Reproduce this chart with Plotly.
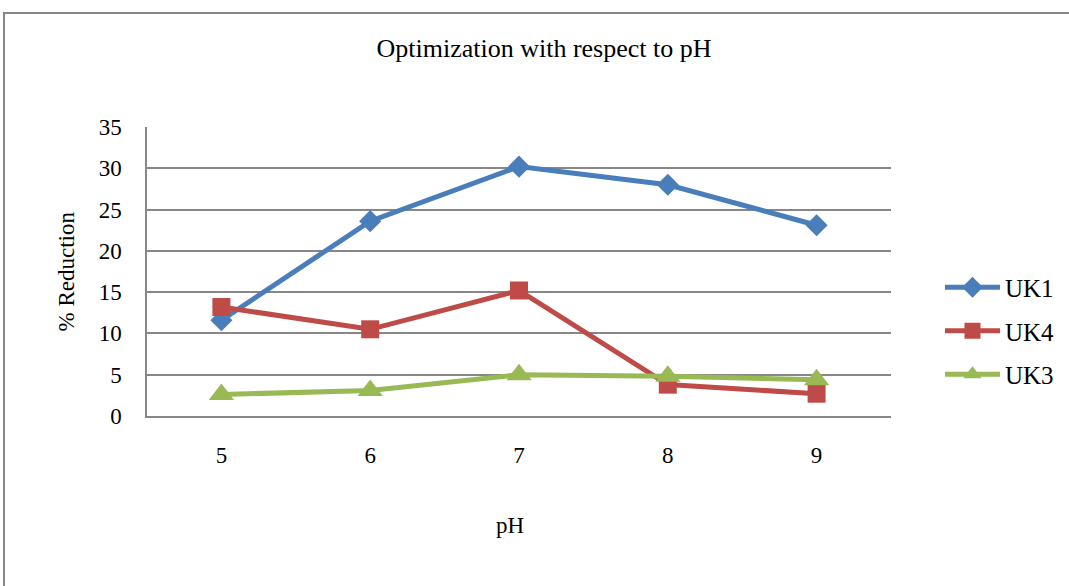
import plotly.graph_objects as go

ph = ["5", "6", "7", "8", "9"]
uk1 = [11.6, 23.6, 30.2, 28.0, 23.1]
uk4 = [13.2, 10.5, 15.2, 3.8, 2.7]
uk3 = [2.6, 3.1, 5.0, 4.8, 4.4]

series = [
    ("UK1", uk1, "#4A7EBB", "diamond", 17),
    ("UK4", uk4, "#BE4B48", "square", 18),
    ("UK3", uk3, "#98B954", "triangle-up", 22),
]

fig = go.Figure()
for name, vals, color, sym, size in series:
    fig.add_trace(go.Scatter(
        x=ph, y=vals, name=name, mode="lines+markers",
        line=dict(color=color, width=5),
        marker=dict(symbol=sym, size=size, color=color),
        legendgroup=name,
    ))

FONT = "Liberation Serif, Times New Roman, serif"
GRID = "#878787"
FS = 23

W, H = 1069, 586
L, T, B = 147, 127, 170
PW = W - L            # paper area width (right margin 0)
PH = H - T - B        # plot height 289
PLOT_RIGHT = 891


def px(xpix):
    return (xpix - L) / PW


def py(ypix):
    return (H - B - ypix) / PH


fig.update_layout(
    width=W, height=H,
    margin=dict(l=L, r=0, t=T, b=B),
    paper_bgcolor="white", plot_bgcolor="white",
    font=dict(family=FONT, size=FS, color="black"),
    showlegend=True,
    title=dict(text="Optimization with respect to pH", x=544 / W, xref="container",
               y=1 - 48 / H, yref="container", yanchor="middle", xanchor="center",
               font=dict(family=FONT, size=26, color="black")),
    legend=dict(x=px(940), y=py(331), xanchor="left", yanchor="middle",
                font=dict(family=FONT, size=25), tracegroupgap=8, itemwidth=55,
                bgcolor="rgba(0,0,0,0)"),
    xaxis=dict(type="category", range=[-0.5, 4.5], domain=[0, px(PLOT_RIGHT)],
               showgrid=False, showline=True, linecolor=GRID, linewidth=1.5,
               ticks="", ticklabelstandoff=18, tickfont=dict(size=FS)),
    yaxis=dict(range=[0, 35], dtick=5, showgrid=True, gridcolor=GRID, gridwidth=1.5,
               showline=True, linecolor=GRID, linewidth=1.5, zeroline=False,
               ticks="", ticklabelstandoff=19, tickfont=dict(size=FS)),
    annotations=[
        dict(text="pH", x=px(510), xref="paper", y=py(525), yref="paper",
             showarrow=False, xanchor="center", yanchor="middle",
             font=dict(family=FONT, size=FS)),
        dict(text="% Reduction", x=px(66), xref="paper", y=0.5, yref="paper",
             showarrow=False, textangle=-90, xanchor="center", yanchor="middle",
             font=dict(family=FONT, size=FS)),
    ],
    shapes=[dict(type="rect", xref="paper", yref="paper",
                 x0=px(4), x1=px(W + 40), y0=py(H + 40), y1=py(13),
                 line=dict(color=GRID, width=2), fillcolor="rgba(0,0,0,0)", layer="below")],
)

fig.write_html("out.html", config={"displayModeBar": False},
               post_script="document.body.style.margin='0';document.body.style.overflow='hidden';")
